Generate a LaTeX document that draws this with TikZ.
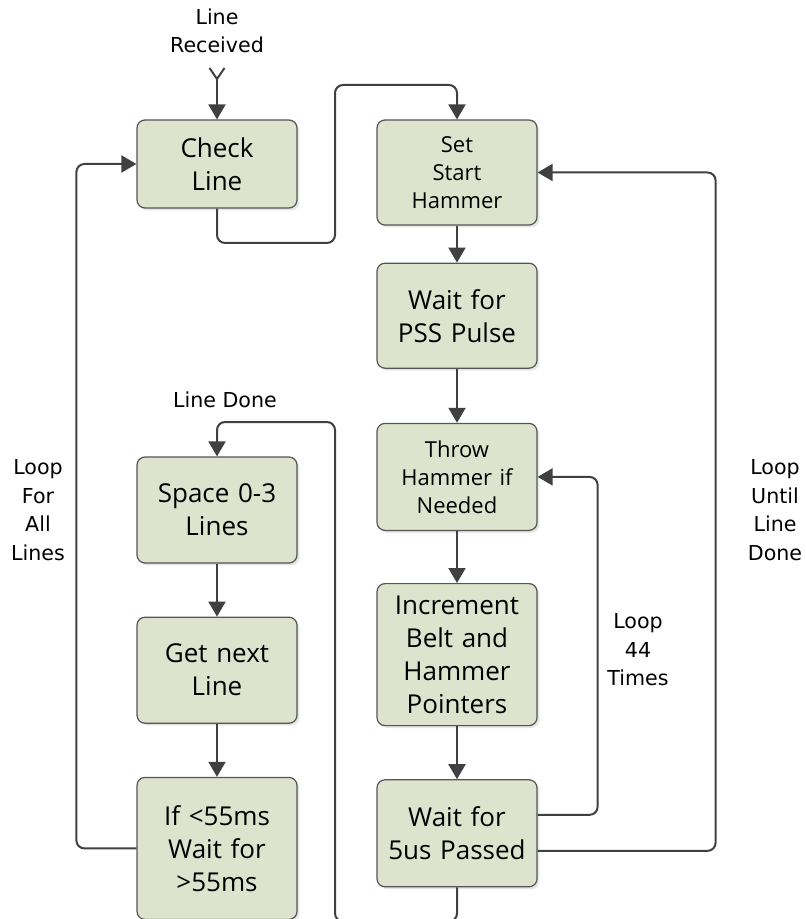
\documentclass[tikz,border=0pt]{standalone}
\usepackage{fontspec}
\setmainfont{Open Sans}
\newfontfamily\labelfont{DejaVu Sans}
\usetikzlibrary{positioning,arrows.meta,shadows}
\definecolor{BoxFill}{RGB}{222,227,205}
\definecolor{BoxLine}{RGB}{85,85,85}
\definecolor{FlowGray}{RGB}{64,64,64}
\tikzset{
  flow/.style={-{Triangle[length=7.5pt,width=8.5pt]},line width=1pt,draw=FlowGray,rounded corners=4pt},
  feedflow/.style={{Straight Barb[reversed,length=5.5pt,width=7.5pt]}-{Triangle[length=7.5pt,width=8.5pt]},
    line width=1pt,draw=FlowGray},
  stepbox/.style={draw=BoxLine,fill=BoxFill,rounded corners=4pt,line width=0.6pt,
    minimum width=80pt,text width=76pt,align=center,inner sep=0pt,
    font=\fontsize{13}{16.5}\selectfont,
    drop shadow={shadow xshift=1.2pt,shadow yshift=-1.2pt,opacity=0.2}},
  smallbox/.style={stepbox,font=\fontsize{11}{14}\selectfont},
  looplabel/.style={align=center,font=\labelfont\fontsize{10.3}{14.3}\selectfont}
}
\begin{document}
\begin{tikzpicture}[x=0.5pt,y=-0.5pt]
  \useasboundingbox (0,0) rectangle (805,919);
  % left column
  \node[stepbox,minimum height=44pt] (check) at (217,164) {Check\\Line};
  \node[stepbox,minimum height=53pt] (space) at (217,510) {Space 0-3\\Lines};
  \node[stepbox,below=26.5pt of space,minimum height=53pt] (next) {Get next\\Line};
  \node[stepbox,below=26.5pt of next,minimum height=71pt] (limit) {If <55ms\\Wait for\\>55ms};
  % right column
  \node[smallbox,minimum height=52.5pt] (start) at (457,172.5) {Set\\Start\\Hammer};
  \node[stepbox,below=18.5pt of start,minimum height=52.5pt] (pss) {Wait for\\PSS Pulse};
  \node[smallbox,below=27pt of pss,minimum height=53.5pt] (throw) {Throw\\Hammer if\\Needed};
  \node[stepbox,below=26pt of throw,minimum height=71pt] (incr) {Increment\\Belt and\\Hammer\\Pointers};
  \node[stepbox,below=26.5pt of incr,minimum height=53.5pt] (wait) {Wait for\\5us Passed};
  % labels
  \node[looplabel] (received) at (217,31) {Line\\Received};
  \node[looplabel] (done) at (225,400) {Line Done};
  \node[looplabel] (allLoop) at (38,510) {Loop\\For\\All\\Lines};
  \node[looplabel] (untilLoop) at (775,510) {Loop\\Until\\Line\\Done};
  \node[looplabel] (timesLoop) at (638,650) {Loop\\44\\Times};
  \coordinate (feed) at (217,67);
  % connectors
  \draw[feedflow] (feed) -- (check.north);
  \draw[flow] (check.south) |- (335,243) |- (start.north |- 0,85) -- (start.north);
  \draw[flow] (start) -- (pss);
  \draw[flow] (pss) -- (throw);
  \draw[flow] (throw) -- (incr);
  \draw[flow] (incr) -- (wait);
  \draw[flow] ([yshift=9.25pt]wait.east) -| ([xshift=30pt]throw.east) -- (throw.east);
  \draw[flow] ([yshift=-8.75pt]wait.east) -| ([xshift=89pt]start.east) -- (start.east);
  \draw[flow] (wait.south) -- ++(0,34) -| (335,422) -| (space.north);
  \draw[flow] (space) -- (next);
  \draw[flow] (next) -- (limit);
  \draw[flow] (limit.west) -| ([xshift=-30pt]check.west) -- (check.west);
\end{tikzpicture}
\end{document}
